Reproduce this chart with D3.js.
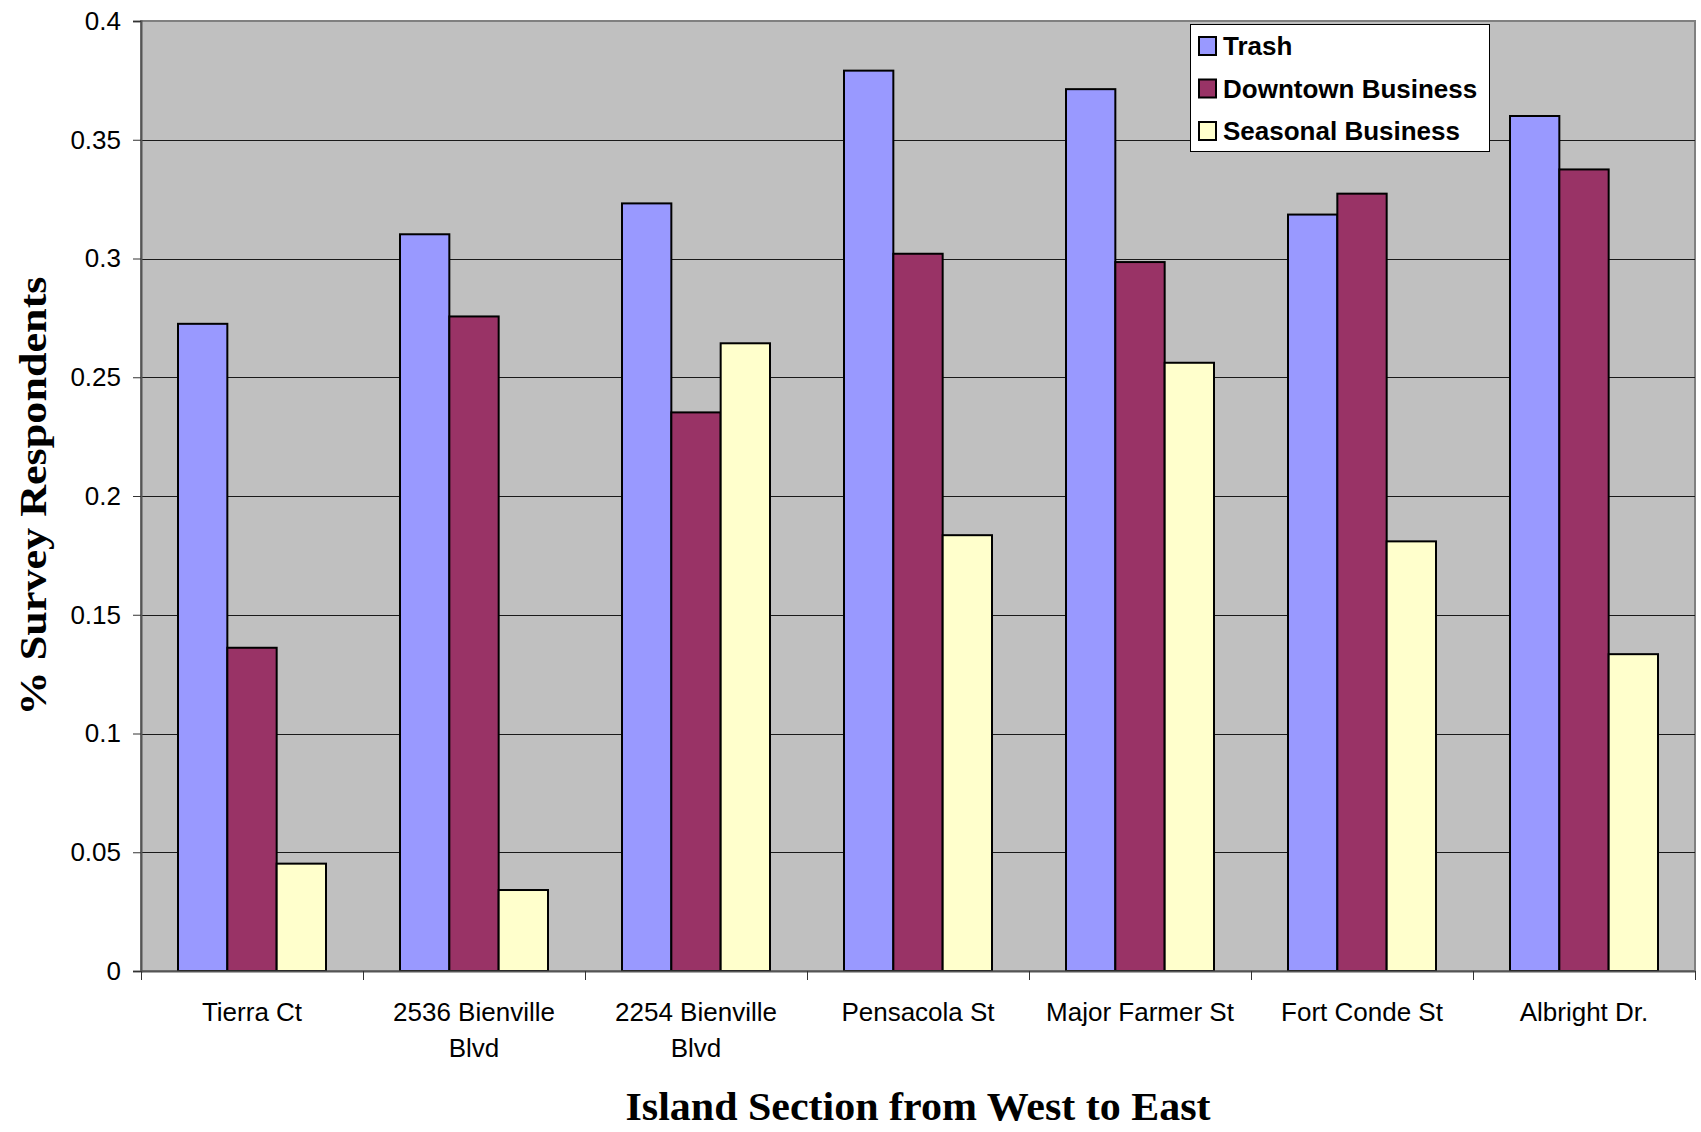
<!DOCTYPE html>
<html>
<head>
<meta charset="utf-8">
<script src="https://cdn.jsdelivr.net/npm/d3@7"></script>
<style>
  html, body { margin: 0; padding: 0; background: #fff; }
  svg { display: block; }
</style>
</head>
<body>
<div id="chart"></div>
<script>
const categories = ["Tierra Ct", "2536 Bienville Blvd", "2254 Bienville Blvd", "Pensacola St", "Major Farmer St", "Fort Conde St", "Albright Dr."];
const seriesNames = ["Trash", "Downtown Business", "Seasonal Business"];
const trash =    [0.2725, 0.3102, 0.3232, 0.3791, 0.3713, 0.3185, 0.3600];
const downtown = [0.1361, 0.2756, 0.2352, 0.3020, 0.2985, 0.3273, 0.3375];
const seasonal = [0.0452, 0.0341, 0.2643, 0.1835, 0.2561, 0.1809, 0.1334];
const yTicks = [0, 0.05, 0.1, 0.15, 0.2, 0.25, 0.3, 0.35, 0.4];
const colors = ["#9999FF", "#993366", "#FFFFCC"];
const yTitle = "% Survey Respondents";
const xTitle = "Island Section from West to East";

const W = 1701, H = 1132;
const plot = { left: 141, right: 1695, top: 21, bottom: 971 };

const svg = d3.select("#chart").append("svg").attr("width", W).attr("height", H);

const x0 = d3.scaleBand().domain(categories).range([plot.left, plot.right]).padding(0);
const x1 = d3.scaleBand().domain(seriesNames).range([0, x0.bandwidth()]).paddingInner(0).paddingOuter(0.75);
const y = d3.scaleLinear().domain([0, 0.4]).range([plot.bottom, plot.top]);

// plot background
svg.append("rect")
  .attr("x", plot.left).attr("y", plot.top)
  .attr("width", plot.right - plot.left).attr("height", plot.bottom - plot.top)
  .attr("fill", "#C0C0C0").attr("stroke", "#808080").attr("stroke-width", 2);

// gridlines
svg.append("g").selectAll("line").data(yTicks.filter(d => d > 0 && d < 0.4)).join("line")
  .attr("x1", plot.left).attr("x2", plot.right)
  .attr("y1", d => Math.round(y(d)) + 0.5).attr("y2", d => Math.round(y(d)) + 0.5)
  .attr("stroke", "#1a1a1a").attr("stroke-width", 1);

// bars
const data = categories.map((c, i) => ({ cat: c, vals: [trash[i], downtown[i], seasonal[i]] }));
const groups = svg.append("g").selectAll("g").data(data).join("g")
  .attr("transform", d => `translate(${x0(d.cat)},0)`);
groups.selectAll("rect").data(d => d.vals.map((v, j) => ({ s: seriesNames[j], v, j }))).join("rect")
  .attr("x", d => x1(d.s))
  .attr("y", d => y(d.v))
  .attr("width", x1.bandwidth())
  .attr("height", d => y(0) - y(d.v))
  .attr("fill", d => colors[d.j])
  .attr("stroke", "#000").attr("stroke-width", 2);

// y axis
const yAxis = d3.axisLeft(y).tickValues(yTicks).tickSize(8).tickPadding(12)
  .tickFormat(d => String(+d.toFixed(2)));
const gy = svg.append("g").attr("transform", `translate(${plot.left},0)`).call(yAxis);
gy.select(".domain").attr("stroke", "#555").attr("stroke-width", 2);
gy.selectAll(".tick line").attr("stroke", "#333").attr("stroke-width", 1);
gy.selectAll(".tick text").attr("font-family", "'Liberation Sans', Arial, sans-serif")
  .attr("font-size", 26).attr("fill", "#000");

// x axis
const xAxis = d3.axisBottom(x0).tickSize(0).tickPadding(0).tickFormat("");
const gx = svg.append("g").attr("transform", `translate(0,${plot.bottom})`).call(xAxis);
gx.select(".domain").attr("stroke", "#555").attr("stroke-width", 2);
// boundary ticks
const bounds = categories.map(c => x0(c)).concat([x0(categories[categories.length - 1]) + x0.bandwidth()]);
gx.selectAll("line.bound").data(bounds).join("line").attr("class", "bound")
  .attr("x1", d => Math.round(d) + 0.5).attr("x2", d => Math.round(d) + 0.5)
  .attr("y1", 0).attr("y2", 9).attr("stroke", "#333").attr("stroke-width", 1);

// category labels with wrapping
const labelG = svg.append("g").attr("font-family", "'Liberation Sans', Arial, sans-serif")
  .attr("font-size", 26).attr("fill", "#000").attr("text-anchor", "middle");
categories.forEach(c => {
  const cx = x0(c) + x0.bandwidth() / 2;
  const t = labelG.append("text").attr("x", cx).attr("y", 1021);
  const words = c.split(" ");
  let lines = [];
  let line = [];
  const probe = labelG.append("text").attr("visibility", "hidden");
  words.forEach(w => {
    const test = line.concat([w]).join(" ");
    probe.text(test);
    if (probe.node().getComputedTextLength() > 205 && line.length) {
      lines.push(line.join(" "));
      line = [w];
    } else {
      line.push(w);
    }
  });
  lines.push(line.join(" "));
  probe.remove();
  lines.forEach((l, k) => {
    t.append("tspan").attr("x", cx).attr("y", 1021 + k * 36).text(l);
  });
});

// legend
const leg = svg.append("g");
leg.append("rect").attr("x", 1190.5).attr("y", 24.5).attr("width", 299).attr("height", 127)
  .attr("fill", "#fff").attr("stroke", "#000").attr("stroke-width", 1);
seriesNames.forEach((s, i) => {
  const yy = 37 + i * 42.5;
  leg.append("rect").attr("x", 1199).attr("y", yy).attr("width", 17).attr("height", 18)
    .attr("fill", colors[i]).attr("stroke", "#000").attr("stroke-width", 2);
  leg.append("text").attr("x", 1223).attr("y", yy + 18)
    .attr("font-family", "'Liberation Sans', Arial, sans-serif").attr("font-weight", "bold")
    .attr("font-size", 26).attr("fill", "#000").text(s);
});

// axis titles
svg.append("text")
  .attr("transform", `translate(46,${496}) rotate(-90)`)
  .attr("text-anchor", "middle")
  .attr("font-family", "'Liberation Serif', 'Times New Roman', serif").attr("font-weight", "bold")
  .attr("font-size", 38).attr("fill", "#000")
  .attr("textLength", 439).attr("lengthAdjust", "spacingAndGlyphs")
  .text(yTitle);

svg.append("text")
  .attr("x", 918).attr("y", 1120)
  .attr("text-anchor", "middle")
  .attr("font-family", "'Liberation Serif', 'Times New Roman', serif").attr("font-weight", "bold")
  .attr("font-size", 40).attr("fill", "#000")
  .attr("textLength", 585).attr("lengthAdjust", "spacingAndGlyphs")
  .text(xTitle);
</script>
</body>
</html>
